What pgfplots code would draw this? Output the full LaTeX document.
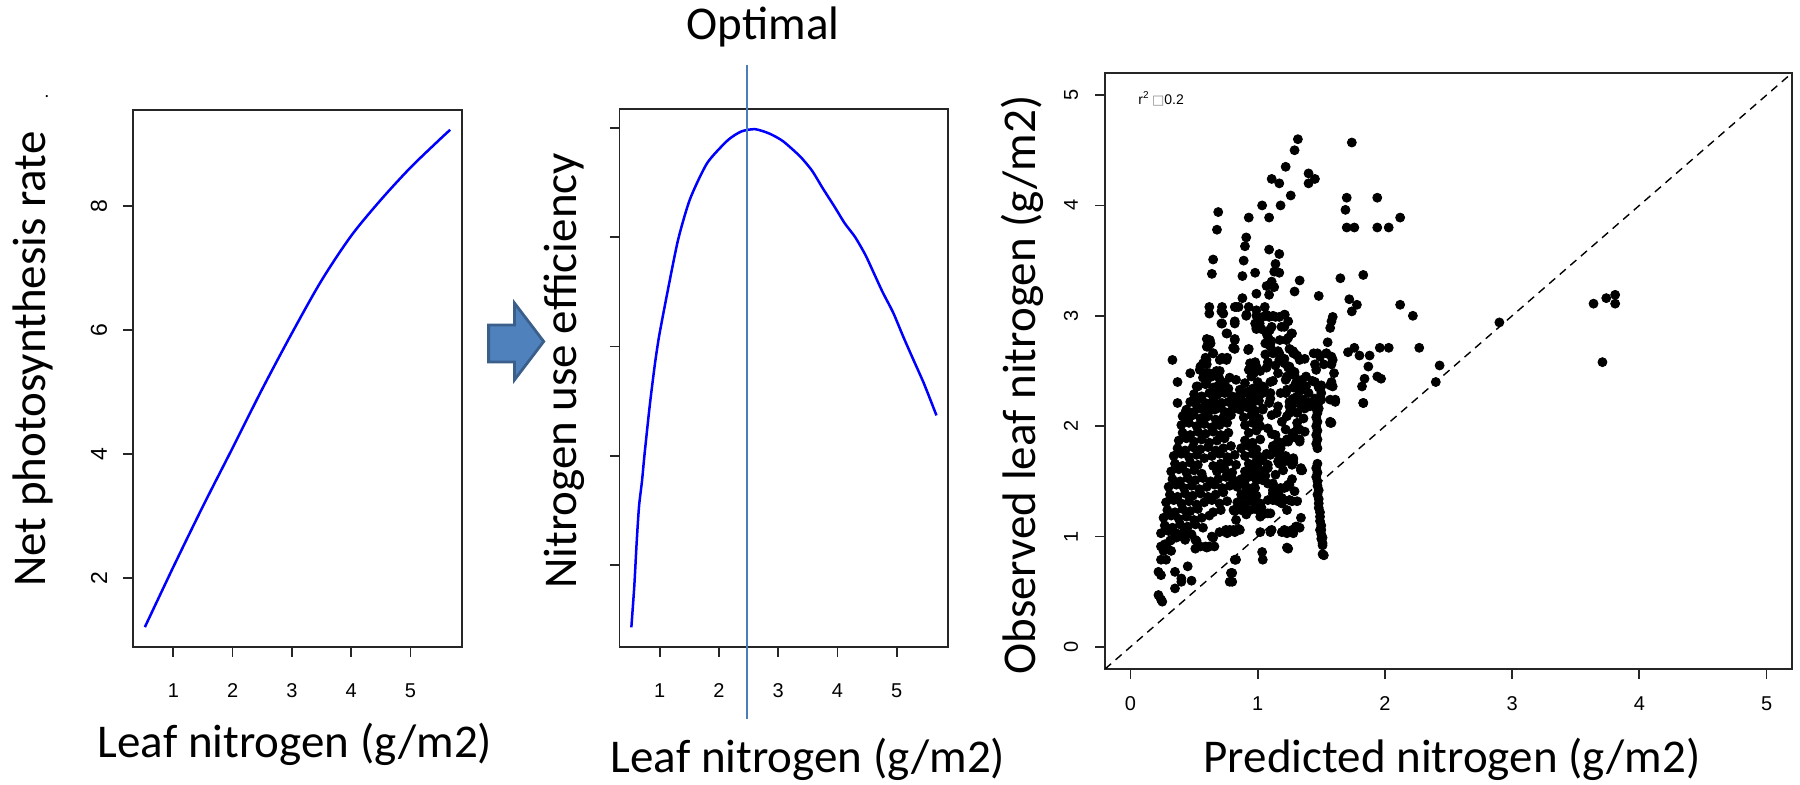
\documentclass[border=0pt]{standalone}
\usepackage{fontspec}
\setmainfont{Carlito}
\newfontfamily\arial{Liberation Sans}
\newfontfamily\dejavu{DejaVu Sans}
\usepackage{pgfplots}
\usepackage{pgfplotstable}
\pgfplotsset{compat=1.18}
\definecolor{curveblue}{HTML}{0000FF}
\definecolor{optline}{HTML}{4A7EBB}
\definecolor{arrowfill}{HTML}{4F81BD}
\definecolor{arrowedge}{HTML}{3A5F8B}

\pgfplotstableread{
x y
0.52 1.21
1.00 2.18
1.50 3.16
2.00 4.10
2.50 5.05
3.00 5.95
3.50 6.80
4.00 7.52
4.50 8.10
5.00 8.62
5.50 9.08
5.67 9.23
}\photo

\pgfplotstableread{
x y
0.52 0.43
0.57 0.81
0.61 1.21
0.65 1.54
0.70 1.77
0.74 2.00
0.81 2.36
0.85 2.55
0.92 2.85
0.99 3.10
1.13 3.50
1.31 3.98
1.51 4.35
1.80 4.68
2.15 4.89
2.38 4.97
2.61 4.99
2.85 4.95
3.08 4.88
3.37 4.74
3.57 4.61
3.75 4.45
3.95 4.28
4.12 4.13
4.30 4.00
4.47 3.84
4.59 3.70
4.76 3.50
4.94 3.31
5.11 3.09
5.28 2.88
5.46 2.66
5.67 2.37
}\nue

\pgfplotstableread{
x y
1.316 4.60
1.29 4.50
1.74 4.57
1.22 4.35
1.40 4.29
1.45 4.24
1.11 4.24
1.17 4.20
1.40 4.20
1.26 4.09
1.70 4.07
1.94 4.07
1.18 4.00
1.035 4.00
1.69 3.96
0.69 3.94
0.93 3.89
1.09 3.89
2.12 3.89
0.68 3.78
1.70 3.80
1.76 3.80
1.94 3.80
2.03 3.80
0.91 3.71
0.90 3.63
1.09 3.60
1.17 3.56
0.65 3.51
0.89 3.50
1.14 3.47
0.98 3.39
0.64 3.38
1.13 3.40
1.17 3.39
0.88 3.36
1.65 3.34
1.83 3.37
1.33 3.32
1.11 3.31
1.13 3.26
1.07 3.27
1.29 3.22
1.48 3.18
0.99 3.20
1.09 3.19
0.88 3.16
1.72 3.15
1.78 3.10
2.12 3.10
3.64 3.11
3.74 3.16
3.81 3.19
3.81 3.11
3.71 2.58
2.90 2.94
2.22 3.00
2.27 2.71
2.43 2.55
2.40 2.40
1.96 2.71
2.03 2.71
1.74 3.04
1.76 2.71
1.71 2.67
1.80 2.64
1.88 2.64
1.87 2.54
1.94 2.45
1.97 2.43
1.84 2.43
1.82 2.36
1.83 2.21
1.59 2.99
1.58 2.95
1.57 2.89
1.55 2.76
1.47 2.66
1.54 2.66
1.58 2.63
1.45 2.56
1.52 2.56
1.58 2.56
1.37 2.61
1.60 2.48
1.58 2.40
1.45 2.40
1.50 2.36
1.45 2.25
1.48 2.22
1.61 2.24
1.21 3.01
1.24 2.95
1.21 2.90
1.27 2.84
1.24 2.80
1.29 2.66
1.09 2.99
1.14 2.99
1.17 2.99
1.04 2.99
0.99 3.00
0.98 2.93
0.99 2.88
1.03 2.88
1.08 2.81
1.11 2.90
1.06 2.75
1.10 2.72
1.12 2.66
1.16 2.68
1.17 2.60
1.21 2.57
1.24 2.53
1.23 2.45
1.29 2.46
1.18 2.30
1.23 2.33
1.25 2.22
1.15 2.12
0.93 3.08
0.82 3.08
0.85 3.08
0.91 3.00
0.82 2.95
0.72 2.93
0.76 2.84
0.82 2.79
0.82 2.70
0.93 2.70
0.98 2.58
0.97 2.48
0.93 2.51
1.00 2.40
1.02 2.33
1.06 2.65
1.08 2.58
0.62 3.08
0.72 3.08
0.73 3.02
0.62 3.02
0.60 2.79
0.63 2.75
0.60 2.72
0.65 2.66
0.72 2.62
0.76 2.62
0.59 2.62
0.60 2.56
0.55 2.54
0.59 2.48
0.62 2.48
0.70 2.43
0.74 2.39
0.66 2.33
0.70 2.30
0.72 2.21
0.47 2.48
0.33 2.60
0.37 2.40
0.37 2.21
0.41 2.09
0.43 2.12
0.51 2.21
0.55 2.16
0.59 2.12
0.63 2.21
0.66 2.15
0.82 2.21
0.87 2.18
0.96 2.21
1.04 2.15
1.09 2.21
0.89 2.30
0.94 2.25
1.00 2.30
0.96 2.34
1.37 2.16
1.40 2.21
1.40 2.30
1.35 2.33
1.31 2.27
1.27 2.18
1.31 2.12
1.43 2.41
1.48 2.35
1.50 2.30
1.50 2.24
1.48 2.16
1.37 2.21
1.35 2.42
1.33 2.36
0.715 3.04
0.833 3.08
0.912 3.01
0.99 3.05
1.056 3.08
1.069 3.01
1.121 3.00
1.213 3.01
1.016 2.93
0.99 2.89
1.095 2.87
1.187 2.90
0.715 2.93
0.82 2.93
0.755 2.84
0.82 2.78
0.807 2.71
0.925 2.69
1.069 2.84
1.108 2.77
1.069 2.75
1.174 2.78
1.226 2.78
1.265 2.84
1.278 2.68
0.624 2.78
0.611 2.72
0.65 2.66
0.702 2.60
0.755 2.60
0.571 2.57
0.598 2.60
0.545 2.51
0.676 2.50
0.702 2.50
0.94 2.57
0.99 2.54
1.02 2.50
1.07 2.53
1.12 2.41
0.95 2.45
0.90 2.39
0.97 2.33
1.04 2.36
1.10 2.30
1.17 2.66
1.21 2.61
1.25 2.54
1.29 2.49
1.23 2.44
1.28 2.35
1.30 2.24
0.86 2.33
0.83 2.42
0.78 2.44
0.73 2.39
0.68 2.36
0.60 2.41
0.52 2.36
0.57 2.44
0.64 2.45
1.28 2.66
1.33 2.60
1.44 2.66
1.49 2.63
1.54 2.66
1.59 2.60
1.46 2.51
1.38 2.45
1.30 2.39
1.33 2.33
1.28 2.24
1.25 2.18
1.23 2.09
1.36 2.24
1.41 2.18
1.57 2.24
1.59 2.36
1.57 2.03
1.33 1.97
1.28 1.94
1.23 1.88
1.33 1.86
1.12 1.82
1.07 1.75
1.17 1.66
1.23 1.70
1.28 1.70
1.34 1.60
1.12 1.39
1.17 1.42
1.23 1.45
1.25 1.33
0.22 0.47
0.24 0.43
0.25 0.41
0.22 0.68
0.24 0.65
0.24 0.79
0.28 0.79
0.35 0.53
0.35 0.68
0.40 0.62
0.40 0.59
0.45 0.73
0.48 0.60
0.80 0.59
0.80 0.67
0.83 0.79
1.035 0.86
1.04 0.79
1.24 0.89
1.52 0.83
1.51 0.92
1.51 0.99
1.49 1.06
1.58 2.03
1.61 2.22
1.83 2.21
1.35 1.60
1.33 1.88
1.37 1.95
1.31 1.97
1.27 1.91
1.22 1.86
1.25 1.69
1.27 1.65
1.21 1.68
1.19 1.72
1.16 1.75
1.16 1.86
1.12 1.81
1.11 1.93
1.08 1.98
1.25 1.47
1.21 1.44
1.25 1.33
1.19 1.30
1.14 1.36
1.16 1.32
1.08 1.21
1.34 1.17
1.31 1.09
1.27 1.06
1.19 1.04
1.23 1.03
1.10 1.04
1.02 1.04
1.02 1.22
1.02 1.18
1.08 1.33
1.12 1.42
0.98 1.25
0.97 1.32
0.93 1.36
0.98 1.44
1.04 1.51
1.08 1.48
1.06 1.60
1.08 1.65
1.04 1.69
1.00 1.63
0.97 1.54
0.91 1.42
0.89 1.36
0.91 1.20
0.87 1.24
0.82 1.23
0.83 1.15
0.85 1.07
0.82 1.04
0.78 1.06
0.70 1.04
0.76 1.03
0.64 1.00
0.62 0.91
0.66 0.91
0.59 0.91
0.51 0.97
0.51 0.89
0.43 0.97
0.40 1.00
0.36 1.03
0.32 0.97
0.28 0.91
0.24 0.91
0.26 0.87
0.32 0.87
0.27 0.93
0.31 0.96
0.36 0.99
0.52 0.96
0.55 0.91
0.60 0.90
0.65 0.99
0.75 1.06
0.81 1.06
0.86 1.06
0.82 0.79
0.79 0.67
0.78 0.59
1.11 1.06
1.21 1.06
1.28 1.06
1.33 1.08
1.23 0.90
0.91 1.21
1.04 1.20
1.03 1.26
0.99 1.29
0.94 1.24
0.96 1.41
1.02 1.30
1.12 1.33
1.12 1.39
1.19 1.35
1.29 1.41
1.10 1.21
1.23 1.24
1.27 1.32
1.31 1.32
1.46 2.24
1.47 2.20
1.46 2.16
1.47 2.12
1.46 2.08
1.47 2.04
1.46 2.00
1.47 1.96
1.46 1.92
1.47 1.88
1.46 1.84
1.47 1.80
1.47 1.66
1.46 1.62
1.47 1.58
1.46 1.54
1.47 1.50
1.47 1.46
1.48 1.42
1.47 1.38
1.48 1.34
1.48 1.30
1.48 1.26
1.49 1.22
1.49 1.18
1.49 1.14
1.50 1.10
1.50 1.06
1.50 1.02
1.50 0.98
1.51 0.94
1.51 0.84
1.36 2.07
1.28 1.71
1.28 1.67
1.34 1.62
1.41 2.21
1.38 2.36
1.50 2.37
1.57 2.37
1.30 1.09
1.28 1.03
1.57 2.04
1.10 2.25
1.16 2.18
1.22 2.30
1.28 2.25
1.34 2.19
1.11 2.10
1.19 2.04
1.25 2.12
1.31 2.03
1.14 1.92
1.22 1.97
1.29 1.90
1.18 1.80
1.24 1.86
1.10 1.74
1.16 1.68
1.22 1.73
1.08 1.62
1.14 1.56
1.20 1.60
1.27 1.52
1.12 1.48
1.06 1.55
1.18 1.44
1.24 1.47
1.10 2.40
1.16 2.48
1.05 2.35
1.22 2.42
1.33 2.32
1.20 2.60
1.14 2.55
1.27 2.50
1.31 2.64
1.25 2.70
0.53 2.36
0.59 2.38
0.65 2.35
0.71 2.37
0.77 2.34
0.50 2.29
0.56 2.27
0.62 2.30
0.68 2.28
0.74 2.30
0.80 2.27
0.47 2.22
0.53 2.24
0.59 2.21
0.65 2.23
0.71 2.20
0.77 2.22
0.83 2.24
0.44 2.15
0.50 2.13
0.56 2.16
0.62 2.14
0.68 2.16
0.74 2.13
0.80 2.15
0.43 2.08
0.49 2.10
0.55 2.07
0.61 2.09
0.67 2.06
0.73 2.08
0.79 2.10
0.40 2.01
0.46 2.03
0.52 2.00
0.58 2.02
0.64 1.99
0.70 2.01
0.76 2.03
0.41 1.94
0.47 1.92
0.53 1.95
0.59 1.93
0.65 1.95
0.71 1.92
0.77 1.94
0.38 1.87
0.44 1.89
0.50 1.86
0.56 1.88
0.62 1.85
0.68 1.87
0.74 1.89
0.37 1.80
0.43 1.78
0.49 1.81
0.55 1.79
0.61 1.81
0.67 1.78
0.73 1.80
0.79 1.82
0.34 1.73
0.40 1.75
0.46 1.72
0.52 1.74
0.58 1.71
0.64 1.73
0.70 1.75
0.76 1.72
0.82 1.74
0.35 1.66
0.41 1.64
0.47 1.67
0.53 1.65
0.65 1.64
0.71 1.66
0.77 1.68
0.83 1.65
0.32 1.59
0.38 1.61
0.44 1.58
0.50 1.60
0.56 1.57
0.68 1.59
0.74 1.61
0.80 1.58
0.33 1.52
0.39 1.50
0.45 1.53
0.51 1.51
0.57 1.53
0.63 1.50
0.69 1.52
0.75 1.54
0.81 1.51
0.30 1.45
0.36 1.47
0.42 1.44
0.48 1.46
0.54 1.43
0.60 1.45
0.66 1.47
0.72 1.44
0.78 1.46
0.31 1.38
0.37 1.36
0.43 1.39
0.49 1.37
0.55 1.39
0.61 1.36
0.67 1.38
0.73 1.40
0.28 1.31
0.34 1.33
0.40 1.30
0.46 1.32
0.52 1.29
0.58 1.31
0.64 1.33
0.70 1.30
0.76 1.32
0.29 1.24
0.35 1.22
0.41 1.25
0.47 1.23
0.53 1.25
0.65 1.22
0.71 1.24
0.26 1.17
0.32 1.19
0.38 1.16
0.44 1.18
0.50 1.15
0.56 1.17
0.62 1.19
0.27 1.10
0.33 1.08
0.39 1.11
0.45 1.09
0.51 1.11
0.57 1.08
0.24 1.03
0.30 1.05
0.36 1.02
0.42 1.04
0.48 1.02
0.86 2.29
0.92 2.31
0.98 2.28
1.04 2.30
0.89 2.22
0.95 2.20
1.01 2.23
0.86 2.15
0.92 2.17
0.98 2.14
1.04 2.16
0.89 2.08
0.95 2.10
1.01 2.07
0.90 2.01
0.96 2.03
1.02 2.00
0.93 1.94
0.99 1.96
0.90 1.87
0.96 1.85
1.02 1.88
0.87 1.80
0.93 1.82
0.99 1.79
0.90 1.73
0.96 1.75
1.02 1.72
0.93 1.66
0.99 1.68
0.90 1.59
0.96 1.61
1.02 1.58
0.87 1.52
0.93 1.54
0.99 1.51
0.84 1.45
0.90 1.47
0.96 1.44
0.87 1.38
0.93 1.40
0.99 1.37
0.84 1.31
0.90 1.29
0.96 1.32
0.81 1.24
0.87 1.26
}\scatter

\pgfplotsset{
  rstyle/.style={
    scale only axis,
    axis line style={line width=0.9pt, black!85},
    tick style={line width=0.9pt, black!85},
    tick align=outside,
    tick pos=left,
    major tick length=5pt,
    minor tick num=0,
    ticklabel style={font=\arial\fontsize{10}{12}\selectfont},
    /pgf/number format/assume math mode=true,
    yticklabel style={rotate=90, anchor=center},
    xticklabel style={anchor=center},
  }
}

\begin{document}
\begin{tikzpicture}
\useasboundingbox (0,0) rectangle (900pt,392.5pt);

% Panel 1
\begin{axis}[rstyle,
  at={(66.5pt,69pt)}, anchor=south west,
  width=164.5pt, height=268.5pt,
  xmin=0.32, xmax=5.87, ymin=0.89, ymax=9.55,
  xticklabel shift=17pt, yticklabel shift=12pt,
  yticklabel style={font=\arial\fontsize{11.5}{13}\selectfont},
  xtick={1,2,3,4,5}, ytick={2,4,6,8}]
\addplot[curveblue, line width=1.25pt, smooth] table[x=x,y=y] {\photo};
\end{axis}

% Panel 2
\begin{axis}[rstyle,
  at={(309.75pt,69pt)}, anchor=south west,
  width=164.4pt, height=269pt,
  xmin=0.32, xmax=5.87, ymin=0.25, ymax=5.175,
  xticklabel shift=17pt, yticklabel shift=12pt,
  xtick={1,2,3,4,5}, ytick={1,2,3,4,5}, yticklabels={},
  clip=false]
\addplot[curveblue, line width=1.25pt, smooth, tension=0.4] table[x=x,y=y] {\nue};
\addplot[optline, line width=1.3pt] coordinates {(2.47,-0.41) (2.47,5.58)};
\end{axis}

% Panel 3
\begin{axis}[rstyle,
  at={(552.5pt,58pt)}, anchor=south west,
  width=343.5pt, height=298pt,
  xmin=-0.2, xmax=5.2, ymin=-0.2, ymax=5.2,
  xticklabel shift=12.5pt, yticklabel shift=12pt,
  xtick={0,1,2,3,4,5}, ytick={0,1,2,3,4,5}]
\addplot[black, line width=0.7pt, dash pattern=on 4pt off 3pt] coordinates {(-0.2,-0.2) (5.2,5.2)};
\addplot[only marks, mark=*, mark size=2.25pt, black] table[x=x,y=y] {\scatter};
\node[anchor=west, inner sep=0pt, font=\arial\fontsize{7}{8}\selectfont] at (axis cs:0.06,4.97)
  {r\textsuperscript{2}\,{\dejavu\color{black!45}\fontsize{6.5}{7}\selectfont □}0.2};
\end{axis}

% Labels
\node[rotate=90, anchor=base, font=\fontsize{23.5}{28}\selectfont] at (22.5pt,213pt) {Net photosynthesis rate};
\node[font=\fontsize{9}{10}\selectfont, inner sep=0pt] at (23.5pt,344pt) {.};
\node[anchor=base, font=\fontsize{23.5}{28}\selectfont] at (147.5pt,13.5pt) {Leaf nitrogen (g/m2)};
\node[rotate=90, anchor=base, font=\fontsize{23.5}{28}\selectfont] at (288pt,207pt) {Nitrogen use efficiency};
\node[anchor=base, font=\fontsize{23.5}{28}\selectfont] at (404pt,6pt) {Leaf nitrogen (g/m2)};
\node[rotate=90, anchor=base, font=\fontsize{23.5}{28}\selectfont] at (517.5pt,200pt) {Observed leaf nitrogen (g/m2)};
\node[anchor=base, font=\fontsize{23.5}{28}\selectfont] at (726pt,6pt) {Predicted nitrogen (g/m2)};
\node[anchor=base, font=\fontsize{23.5}{28}\selectfont] at (381.5pt,372.5pt) {Optimal};

% Block arrow
\filldraw[fill=arrowfill, draw=arrowedge, line width=1.4pt, line join=miter]
  (244.3pt,211.5pt) -- (257.2pt,211.5pt) -- (257.2pt,202.5pt) -- (271.85pt,221.75pt)
  -- (257.2pt,241pt) -- (257.2pt,230pt) -- (244.3pt,230pt) -- cycle;
\end{tikzpicture}
\end{document}
